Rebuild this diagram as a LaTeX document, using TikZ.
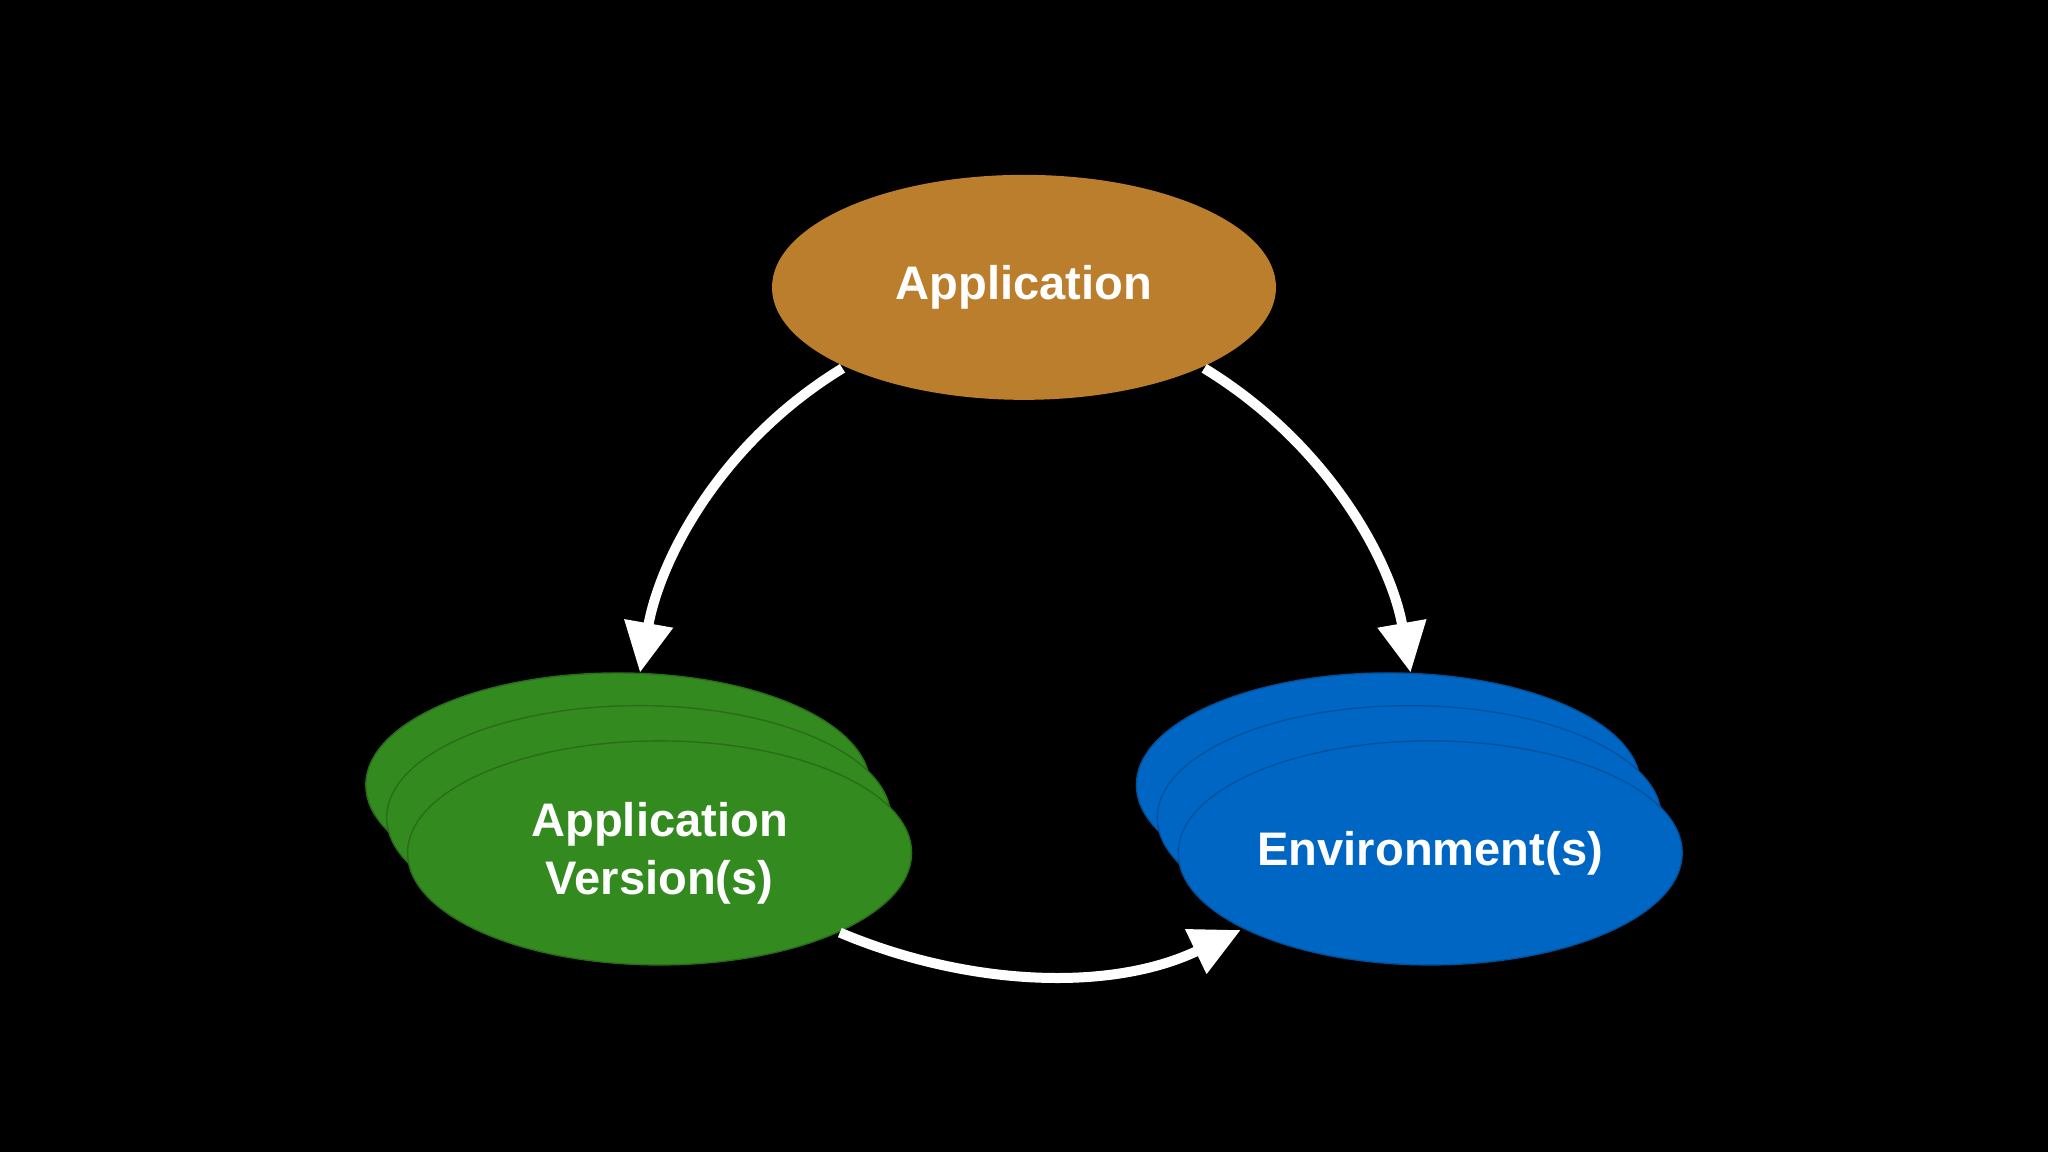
\documentclass[tikz,border=0pt]{standalone}
\usepackage{fontspec}
\setmainfont{Liberation Sans}
\usetikzlibrary{arrows.meta,shapes.geometric}
\definecolor{appc}{HTML}{BB7E2C}
\definecolor{verc}{HTML}{338A1E}
\definecolor{envc}{HTML}{0066C4}
\begin{document}
\begin{tikzpicture}[x=0.013061cm,y=-0.013061cm,
  ell/.style={ellipse,minimum width=386\pgflinewidth*0+5.04cm,minimum height=2.24cm,inner sep=0pt},
  lbl/.style={text=white,font=\fontsize{13.4}{16.5}\selectfont\bfseries,align=center},
  arr/.style={draw=white,line width=0.1cm,-{Triangle[width=0.47cm,length=0.5cm]}}]
\fill[black] (0,0) rectangle (1568,882);
\node[ell,fill=appc,minimum width=5.04cm,minimum height=2.25cm] (app) at (784,220) {};
\node[lbl] at (784,220) {Application};
\foreach \i/\dx/\dy in {a/473/601,b/489/626,c/505/653}
  \node[ell,fill=verc,draw=verc!80!black,line width=0.4pt] (v\i) at (\dx,\dy) {};
\node[lbl] (vt) at (505,653) {Application\\Version(s)};
\foreach \i/\dx/\dy in {a/1063/601,b/1079/626,c/1095/653}
  \node[ell,fill=envc,draw=envc!80!black,line width=0.4pt] (e\i) at (\dx,\dy) {};
\node[lbl] (et) at (1095,653) {Environment(s)};
\coordinate (s1) at (645,282); \coordinate (t1) at (490,515);
\coordinate (s2) at (922,282); \coordinate (t2) at (1080,515);
\coordinate (s3) at (643,714); \coordinate (t3) at (950,712);
\draw[arr] (s1) .. controls (550,340) and (505,430) .. (t1);
\draw[arr] (s2) .. controls (1017,340) and (1065,430) .. (t2);
\draw[arr] (s3) .. controls (740,755) and (850,760) .. (t3);
\end{tikzpicture}
\end{document}
